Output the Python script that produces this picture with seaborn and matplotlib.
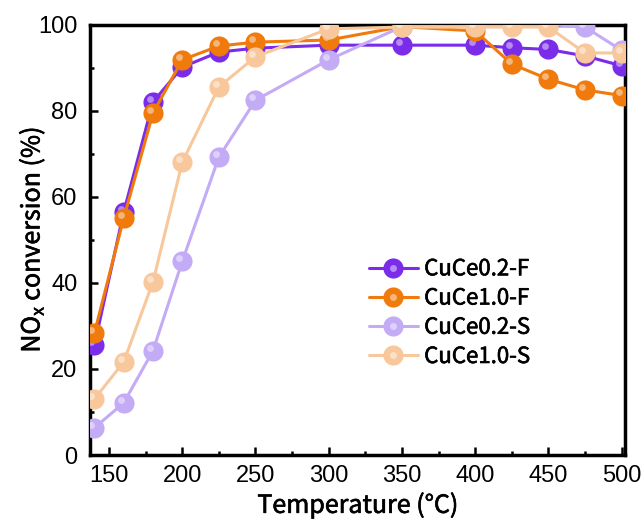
import numpy as np
import pandas as pd
import seaborn as sns
import matplotlib
matplotlib.use("Agg")
import matplotlib.pyplot as plt
import matplotlib.patheffects as pe
from matplotlib.transforms import offset_copy
from matplotlib.lines import Line2D
from matplotlib.legend_handler import HandlerTuple

# ---- data ----
temps = [140, 160, 180, 200, 225, 250, 300, 350, 400, 425, 450, 475, 500]
cuce02_f = [25.5, 56.4, 82.0, 90.1, 93.6, 94.5, 95.2, 95.2, 95.2, 94.6, 94.2, 92.7, 90.4]
cuce10_f = [28.3, 55.0, 79.4, 91.8, 95.0, 95.9, 96.4, 99.5, 98.5, 90.8, 87.3, 84.8, 83.5]
cuce02_s = [6.3, 12.1, 24.2, 45.0, 69.2, 82.4, 91.8, 99.5, 100.0, 100.0, 100.0, 99.4, 94.0]
cuce10_s = [13.0, 21.6, 40.2, 68.0, 85.5, 92.5, 99.0, 99.4, 99.4, 99.4, 99.4, 93.4, 93.4]
labels = ["CuCe0.2-F", "CuCe1.0-F", "CuCe0.2-S", "CuCe1.0-S"]
colors = ["#7A2CE8", "#F07A0C", "#C4ABF6", "#F8C89C"]
x_ticks = [150, 200, 250, 300, 350, 400, 450, 500]
y_ticks = [0, 20, 40, 60, 80, 100]

series = [cuce02_f, cuce10_f, cuce02_s, cuce10_s]

sns.set_style("ticks")
plt.rcParams["font.family"] = ["Liberation Sans", "DejaVu Sans"]
plt.rcParams["mathtext.fontset"] = "custom"
plt.rcParams["mathtext.rm"] = "Noto Sans CJK SC"
plt.rcParams["mathtext.bf"] = "Noto Sans CJK SC:bold"
for k in ["text.color", "axes.labelcolor", "xtick.color", "ytick.color", "axes.edgecolor"]:
    plt.rcParams[k] = "black"

label_font = ["Noto Sans CJK SC", "DejaVu Sans"]
thicken = [pe.withStroke(linewidth=0.45, foreground="black")]

fig = plt.figure(figsize=(6.44, 5.24), dpi=100)
ax = fig.add_axes([90 / 644, 1 - 455 / 524, 535 / 644, 430.5 / 524])

ms = 14.5
hl = offset_copy(ax.transData, fig=fig, x=-2.2, y=2.2, units="points")
for i, (vals, c, lab) in enumerate(zip(series, colors, labels)):
    z = 3 + i
    sns.lineplot(x=temps, y=vals, ax=ax, color=c, lw=2.2, marker="o",
                 markersize=ms, markeredgewidth=0, zorder=z, legend=False)
    sns.scatterplot(x=temps, y=vals, ax=ax, color="white", s=24, alpha=0.45,
                    linewidth=0, transform=hl, zorder=z + 0.5, legend=False)

ax.set_xlim(137, 502.3)
ax.set_ylim(0, 100)
ax.set_xticks(x_ticks)
ax.set_xticks([t + 25 for t in x_ticks[:-1]], minor=True)
ax.set_yticks(y_ticks)
ax.set_yticks([t + 10 for t in y_ticks[:-1]], minor=True)
ax.tick_params(axis="both", which="major", direction="in", length=6, width=1.8,
               labelsize=17)
ax.tick_params(axis="both", which="minor", direction="in", length=3, width=1.8)
ax.tick_params(axis="x", pad=7)
ax.tick_params(axis="y", pad=9)
for sp in ax.spines.values():
    sp.set_linewidth(2.5)
    sp.set_visible(True)
    sp.set_color("black")

ax.set_xlabel("Temperature (°C)", fontsize=18, family=label_font, labelpad=4,
              path_effects=thicken)
ax.set_ylabel(r"NO$_{\mathrm{x}}$ conversion (%)", fontsize=18, family=label_font,
              labelpad=-6, path_effects=thicken)

handles = []
for c in colors:
    h1 = Line2D([], [], color=c, lw=2.2, marker="o", markersize=ms, markeredgewidth=0)
    h2 = Line2D([], [], ls="none", marker="o", markersize=5, color="white",
                alpha=0.45, markeredgewidth=0)
    handles.append((h1, h2))
leg = ax.legend(handles, labels, handler_map={tuple: HandlerTuple(ndivide=1)},
                loc="upper left", bbox_to_anchor=(0.5, 0.485), frameon=False,
                prop={"family": label_font, "size": 16},
                handlelength=2.2, handletextpad=0.3, labelspacing=0.28, borderpad=0)
for t in leg.get_texts():
    t.set_path_effects(thicken)

fig.savefig("out.png", dpi=100)
